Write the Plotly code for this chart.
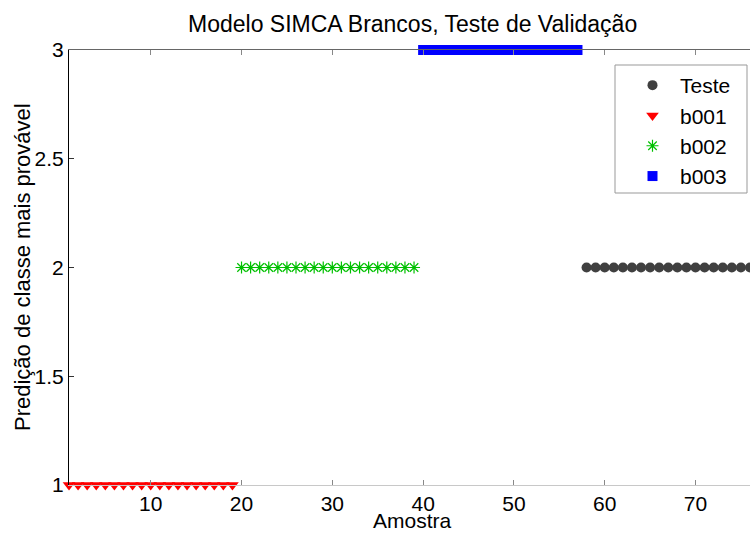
import plotly.graph_objects as go

# Data (sample index, predicted class)
teste_x = list(range(58, 78))
teste_y = [2] * len(teste_x)
b001_x = list(range(1, 20))
b001_y = [1] * len(b001_x)
b002_x = list(range(20, 40))
b002_y = [2] * len(b002_x)
b003_x = list(range(40, 58))
b003_y = [3] * len(b003_x)

x_ticks = [10, 20, 30, 40, 50, 60, 70]
y_ticks = [1, 1.5, 2, 2.5, 3]
y_tick_labels = ["1", "1.5", "2", "2.5", "3"]

FONT = "Liberation Sans, Arial, sans-serif"

L, R, T, B = 69, 0, 50, 49
W, H = 750, 534
PW, PH = W - L - R, H - T - B


def px_x(p):
    return (p - L) / PW


def px_y(p):
    return 1 - (p - T) / PH


fig = go.Figure()
fig.add_trace(go.Scatter(x=teste_x, y=teste_y, mode="markers", name="Teste",
                         marker=dict(symbol="circle", size=10, color="#404040"),
                         cliponaxis=False))
fig.add_trace(go.Scatter(x=b001_x, y=b001_y, mode="markers", name="b001",
                         marker=dict(symbol="triangle-down", size=11, color="#ff0000"),
                         cliponaxis=False))
fig.add_trace(go.Scatter(x=b002_x, y=b002_y, mode="markers", name="b002",
                         marker=dict(symbol="asterisk-open", size=10, color="#00c000",
                                     line=dict(color="#00c000", width=1.2)),
                         cliponaxis=False))
fig.add_trace(go.Scatter(x=b003_x, y=b003_y, mode="markers", name="b003",
                         marker=dict(symbol="square", size=10, color="#0000ff"),
                         cliponaxis=False))
# invisible trace to carry the top mirror axis
fig.add_trace(go.Scatter(x=[1, 76], y=[2, 2], xaxis="x2", mode="markers",
                         marker=dict(opacity=0), showlegend=False, hoverinfo="skip"))

# legend frame
fig.add_shape(type="rect", xref="paper", yref="paper",
              x0=px_x(615), x1=px_x(747), y0=px_y(193), y1=px_y(65),
              line=dict(color="#999", width=1), fillcolor="white", layer="above")

fig.add_annotation(text="Modelo SIMCA Brancos, Teste de Validação",
                   xref="paper", yref="paper", x=px_x(412), y=px_y(24),
                   xanchor="center", yanchor="middle", showarrow=False,
                   font=dict(family=FONT, size=23, color="#000"))
fig.add_annotation(text="Amostra",
                   xref="paper", yref="paper", x=px_x(412), y=px_y(520),
                   xanchor="center", yanchor="middle", showarrow=False,
                   borderpad=0,
                   font=dict(family=FONT, size=21, color="#000"))
fig.add_annotation(text="Predição de classe mais provável",
                   xref="paper", yref="paper", x=px_x(22), y=px_y(267),
                   xanchor="center", yanchor="middle", showarrow=False,
                   textangle=-90,
                   font=dict(family=FONT, size=22, color="#000"))

fig.update_layout(
    width=W, height=H,
    margin=dict(l=L, r=R, t=T, b=B, autoexpand=False),
    paper_bgcolor="white", plot_bgcolor="white",
    font=dict(family=FONT, size=21, color="#000000"),
    xaxis=dict(range=[1, 76], tickvals=x_ticks, ticks="inside", ticklen=5,
               tickcolor="#888", showline=True, linecolor="#c8c8c8", linewidth=1,
               showgrid=False, zeroline=False,
               tickfont=dict(family=FONT, size=21)),
    xaxis2=dict(range=[1, 76], overlaying="x", side="top", tickvals=x_ticks,
                ticks="inside", ticklen=5, tickcolor="#888", showline=True,
                linecolor="#666", linewidth=1, showticklabels=False,
                showgrid=False, zeroline=False),
    yaxis=dict(range=[1, 3], tickvals=y_ticks, ticktext=y_tick_labels,
               ticks="inside", ticklen=5, tickcolor="#333", showline=True,
               linecolor="#000", linewidth=1, showgrid=False, zeroline=False,
               tickfont=dict(family=FONT, size=21)),
    legend=dict(x=px_x(625), xanchor="left", y=px_y(65), yanchor="top",
                bgcolor="rgba(0,0,0,0)", borderwidth=0,
                font=dict(family=FONT, size=21),
                traceorder="normal",
                itemwidth=45),
    showlegend=True,
)

fig.write_html("out.html", config={"displayModeBar": False},
               post_script="document.body.style.margin='0';")
